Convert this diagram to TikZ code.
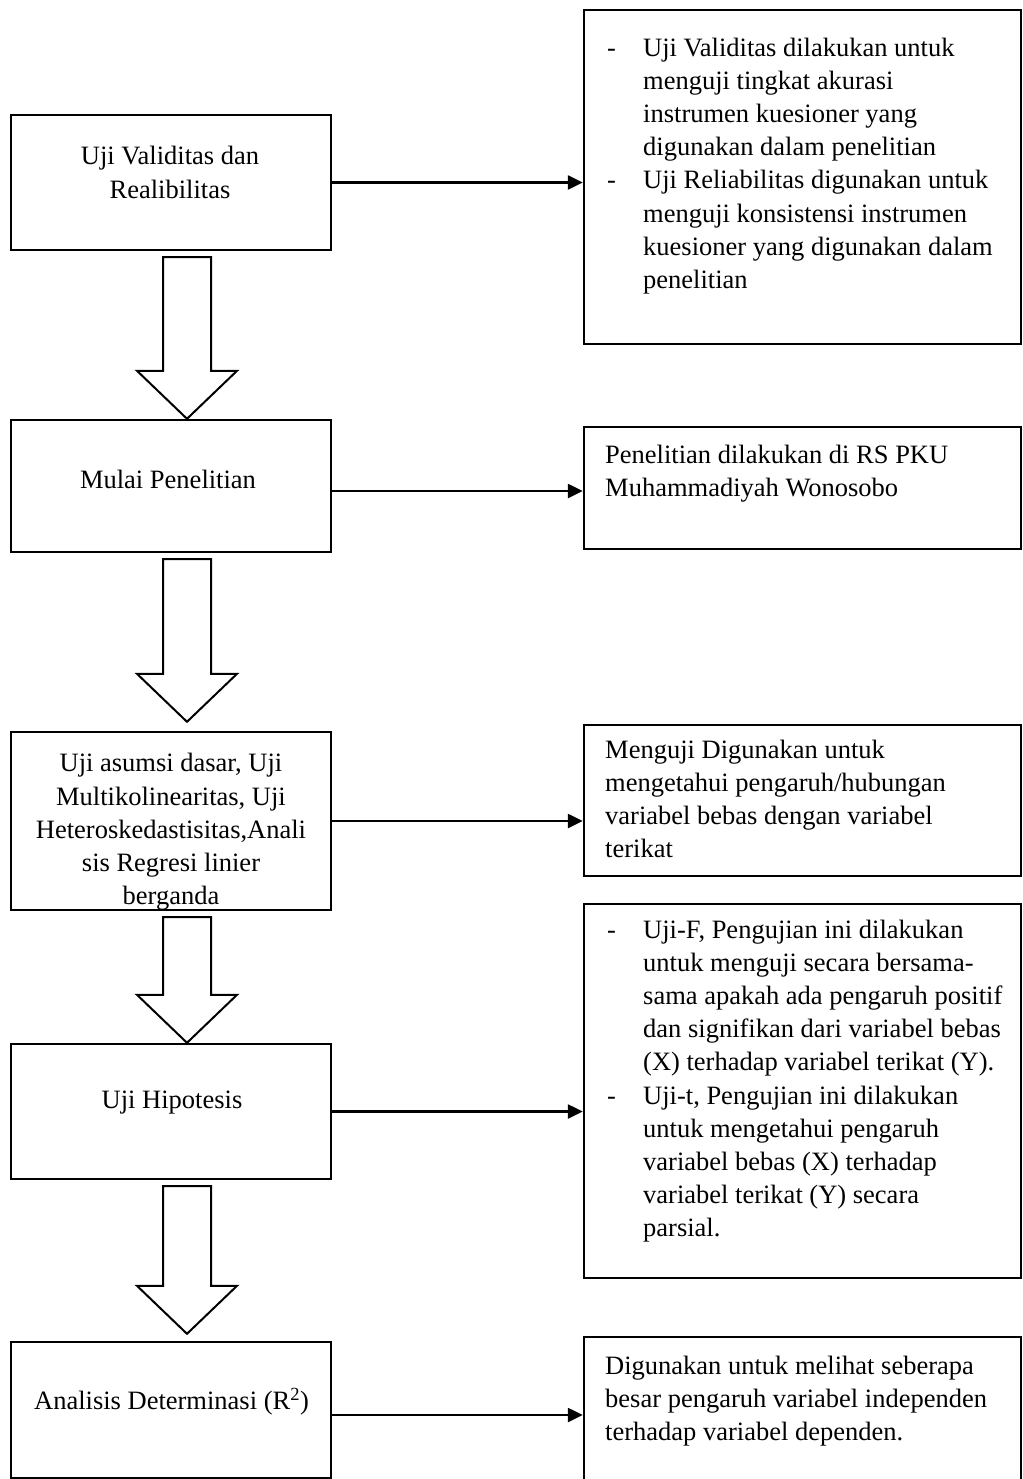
\documentclass[tikz,border=0pt]{standalone}
\usepackage{fontspec}
\setmainfont{Liberation Serif}
\usetikzlibrary{calc,arrows.meta}

\tikzset{
  lbox/.style={draw, line width=2.4pt, minimum width=320pt, inner sep=0pt},
  rbox/.style={draw, line width=2.4pt, minimum width=437pt, inner sep=0pt},
  ltext/.style={align=center, inner sep=0pt, font=\fontsize{26.5}{33.2}\selectfont},
  rtext/.style={align=left, anchor=north west, inner sep=0pt, font=\fontsize{26.5}{33.2}\selectfont},
  conn/.style={line width=2.4pt, -{Triangle[length=15pt,width=14pt]}},
  blockarr/.style={line width=2pt, line join=miter}
}

% hollow down arrow between two boxes: from, to, gap above the tip
\newcommand{\bigarrow}[3]{%
  \draw[blockarr] let \p1=($(#1.south)+(16pt,-6pt)$), \p2=($(#2.north)+(16pt,#3)$) in
    (\x1-24pt,\y1) -- (\x1+24pt,\y1) -- (\x1+24pt,\y2+48pt) -- (\x1+50pt,\y2+48pt)
    -- (\x1,\y2) -- (\x1-50pt,\y2+48pt) -- (\x1-24pt,\y2+48pt) -- cycle;}
\newcommand{\itemdash}{\makebox[36pt][l]{-}}
\newcommand{\itemgap}{\hspace*{36pt}}

\begin{document}
\begin{tikzpicture}[x=1pt,y=-1pt]
  \useasboundingbox (0,0) rectangle (1022,1479);

  % left column
  \node[lbox, minimum height=135pt] (b1) at (171,182.5) {};
  \node[lbox, minimum height=132pt] (b2) at (171,486) {};
  \node[lbox, minimum height=178pt] (b3) at (171,821) {};
  \node[lbox, minimum height=135pt] (b4) at (171,1111.5) {};
  \node[lbox, minimum height=136pt] (b5) at (171,1410) {};

  \node[ltext] (t1) at (170,172.5) {Uji Validitas dan\\Realibilitas};
  \node[ltext] (t2) at (168,479) {Mulai Penelitian};
  \begin{scope}
    \clip (b3.north west) rectangle (b3.south east);
    \node[ltext] (t3) at (171,832) {Uji asumsi dasar, Uji\\Multikolinearitas, Uji\\Heteroskedastisitas,Anali\\sis Regresi linier\\berganda};
  \end{scope}
  \node[ltext] (t4) at (172,1103) {Uji Hipotesis};
  \node[ltext] (t5) at (171.5,1402) {Analisis Determinasi (R\textsuperscript{2})};

  % right column
  \node[rbox, minimum height=334pt] (r1) at (802.5,177) {};
  \node[rbox, minimum height=122pt] (r2) at (802.5,488) {};
  \node[rbox, minimum height=151pt] (r3) at (802.5,800.5) {};
  \node[rbox, minimum height=374pt] (r4) at (802.5,1091) {};
  \node[rbox, minimum height=160pt] (r5) at (802.5,1417) {};

  \node[rtext] (s1) at (607,37.5) {\itemdash Uji Validitas dilakukan untuk\\
    \itemgap menguji tingkat akurasi\\
    \itemgap instrumen kuesioner yang\\
    \itemgap digunakan dalam penelitian\\
    \itemdash Uji Reliabilitas digunakan untuk\\
    \itemgap menguji konsistensi instrumen\\
    \itemgap kuesioner yang digunakan dalam\\
    \itemgap penelitian};
  \node[rtext] (s2) at (605,444.5) {Penelitian dilakukan di RS PKU\\Muhammadiyah Wonosobo};
  \node[rtext] (s3) at (605,739.5) {Menguji Digunakan untuk\\mengetahui pengaruh/hubungan\\variabel bebas dengan variabel\\terikat};
  \node[rtext] (s4) at (607,919.5) {\itemdash Uji-F, Pengujian ini dilakukan\\
    \itemgap untuk menguji secara bersama-\\
    \itemgap sama apakah ada pengaruh positif\\
    \itemgap dan signifikan dari variabel bebas\\
    \itemgap (X) terhadap variabel terikat (Y).\\
    \itemdash Uji-t, Pengujian ini dilakukan\\
    \itemgap untuk mengetahui pengaruh\\
    \itemgap variabel bebas (X) terhadap\\
    \itemgap variabel terikat (Y) secara\\
    \itemgap parsial.};
  \node[rtext] (s5) at (605,1355.5) {Digunakan untuk melihat seberapa\\besar pengaruh variabel independen\\terhadap variabel dependen.};

  % connectors
  \draw[conn] (b1.east) -- (b1.east -| r1.west);
  \draw[conn] ([yshift=-5pt]b2.east) -- ([yshift=-5pt]b2.east -| r2.west);
  \draw[conn] (b3.east) -- (b3.east -| r3.west);
  \draw[conn] (b4.east) -- (b4.east -| r4.west);
  \draw[conn] ([yshift=-5pt]b5.east) -- ([yshift=-5pt]b5.east -| r5.west);

  \bigarrow{b1}{b2}{0pt}
  \bigarrow{b2}{b3}{9pt}
  \bigarrow{b3}{b4}{0pt}
  \bigarrow{b4}{b5}{7pt}
\end{tikzpicture}
\end{document}
